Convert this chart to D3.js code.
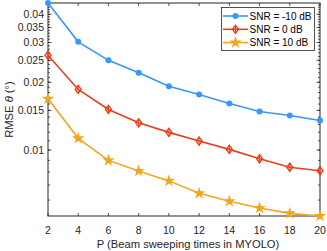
<!DOCTYPE html>
<html><head><meta charset="utf-8">
<script src="https://cdn.jsdelivr.net/npm/d3@7"></script>
<style>body{margin:0;background:#fff}svg{display:block;font-family:"Liberation Sans",Arial,sans-serif}</style>
</head><body><svg id="c" width="327" height="251"></svg>
<script>
const P = [2,4,6,8,10,12,14,16,18,20];
const snrM10 = [0.0449,0.0302,0.0250,0.0220,0.0192,0.01765,0.0161,0.01483,0.01424,0.01353];
const snr0 = [0.02634,0.01857,0.01514,0.01321,0.01198,0.01096,0.01007,0.00915,0.00839,0.0081];
const snr10 = [0.01687,0.01127,0.0090,0.00807,0.0073,0.00643,0.00593,0.00553,0.00524,0.0051];
const seriesNames = ["SNR = -10 dB","SNR = 0 dB","SNR = 10 dB"];
const xTicks = [2,4,6,8,10,12,14,16,18,20];
const yTicks = [0.01,0.015,0.02,0.025,0.03,0.035,0.04];
const yTickLabels = ["0.01","0.015","0.02","0.025","0.03","0.035","0.04"];
const yMinor = d3.range(5,46).map(v=>v/1000);

const colors = ["#3797fb","#e6411c","#f0a61e"];
const markers = ["circle","diamond","star"];
const svg = d3.select("#c");
const L=48,R=320,T=3,B=216;
const x = d3.scaleLinear().domain([2,20]).range([L,R]);
const y = d3.scaleLog().domain([0.0051,0.0449]).range([B,T]);
const ax = "#262626";

svg.append("rect").attr("x",L).attr("y",T).attr("width",R-L).attr("height",B-T).attr("fill","#fff").attr("stroke",ax).attr("stroke-width",1);

const g = svg.append("g").attr("stroke",ax).attr("stroke-width",0.8);
xTicks.forEach(v=>{
  g.append("line").attr("x1",x(v)).attr("x2",x(v)).attr("y1",B).attr("y2",B-3);
  g.append("line").attr("x1",x(v)).attr("x2",x(v)).attr("y1",T).attr("y2",T+3);
});
yMinor.forEach(v=>{
  if(v<y.domain()[0]||v>y.domain()[1]) return;
  g.append("line").attr("x1",L).attr("x2",L+2).attr("y1",y(v)).attr("y2",y(v));
  g.append("line").attr("x1",R).attr("x2",R-2).attr("y1",y(v)).attr("y2",y(v));
});
yTicks.forEach(v=>{
  g.append("line").attr("x1",L).attr("x2",L+3.5).attr("y1",y(v)).attr("y2",y(v));
  g.append("line").attr("x1",R).attr("x2",R-3.5).attr("y1",y(v)).attr("y2",y(v));
});
const tl = svg.append("g").attr("fill",ax).attr("font-size",10.5);
xTicks.forEach(v=>tl.append("text").attr("x",x(v)).attr("y",233.5).attr("text-anchor","middle").text(v));
yTicks.forEach((v,i)=>tl.append("text").attr("x",44).attr("y",y(v)+3.8).attr("text-anchor","end").text(yTickLabels[i]));
tl.append("text").attr("x",(L+R)/2+4).attr("y",247.5).attr("font-size",11.2).attr("text-anchor","middle").text("P (Beam sweeping times in MYOLO)");
const yl = tl.append("text").attr("font-size",11.2).attr("transform",`translate(13,${(T+B)/2}) rotate(-90)`).attr("text-anchor","middle");
yl.append("tspan").text("RMSE ");
yl.append("tspan").attr("font-style","italic").text("θ");
yl.append("tspan").text(" (°)");

const star = d3.symbol().type(d3.symbolStar).size(48);
function drawMarker(sel,type,cx,cy,col){
  if(type==="circle") sel.append("circle").attr("cx",cx).attr("cy",cy).attr("r",3).attr("fill",col);
  else if(type==="diamond"){
    sel.append("path").attr("d",`M${cx},${cy-4}L${cx+3},${cy}L${cx},${cy+4}L${cx-3},${cy}Z`).attr("fill","none").attr("stroke",col).attr("stroke-width",1.4);
    sel.append("line").attr("x1",cx).attr("x2",cx).attr("y1",cy-4.5).attr("y2",cy+4.5).attr("stroke",col).attr("stroke-width",1);
  } else sel.append("path").attr("d",star).attr("transform",`translate(${cx},${cy})`).attr("fill",col);
}
const data=[snrM10,snr0,snr10];
const line = d3.line().x((d,i)=>x(P[i])).y(d=>y(d));
data.forEach((s,k)=>{
  const gg = svg.append("g");
  gg.append("path").attr("d",line(s)).attr("fill","none").attr("stroke",colors[k]).attr("stroke-width",1.6);
  s.forEach((v,i)=>drawMarker(gg,markers[k],x(P[i]),y(v),colors[k]));
});
const lg = svg.append("g");
lg.append("rect").attr("x",221.5).attr("y",7.5).attr("width",93).attr("height",43).attr("fill","#fff").attr("stroke",ax).attr("stroke-width",0.8);
seriesNames.forEach((n,k)=>{
  const yy = 16+k*13.3;
  lg.append("line").attr("x1",223).attr("x2",248).attr("y1",yy).attr("y2",yy).attr("stroke",colors[k]).attr("stroke-width",1.6);
  drawMarker(lg,markers[k],235.5,yy,colors[k]);
  lg.append("text").attr("x",249.5).attr("y",yy+3.5).attr("font-size",10).attr("fill","#000").text(n);
});
</script></body></html>
